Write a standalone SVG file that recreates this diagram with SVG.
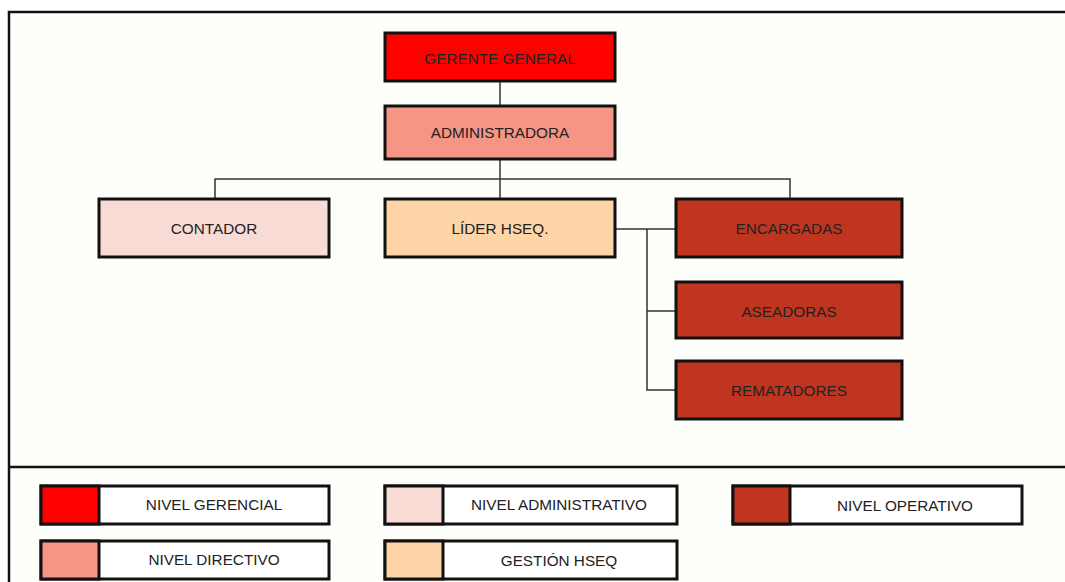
<svg xmlns="http://www.w3.org/2000/svg" width="1065" height="582" viewBox="0 0 1065 582">
<style>
.box{stroke:#111;stroke-width:3}
.lbl{font-family:"Liberation Sans",Arial,sans-serif;font-size:15.3px;fill:#222;text-anchor:middle;dominant-baseline:central}
.con{fill:none;stroke:#333;stroke-width:1.5}
</style>
<rect x="0" y="0" width="1065" height="582" fill="#ffffff"/>
<rect x="9" y="12" width="1070" height="580" fill="#fefefa" stroke="#111" stroke-width="2.5"/>
<line x1="9" y1="467" x2="1065" y2="467" stroke="#111" stroke-width="2.5"/>
<g id="connectors">
<path class="con" d="M500 81V106"/>
<path class="con" d="M500 159V199"/>
<path class="con" d="M215 199V179H790V199"/>
<path class="con" d="M615 229H676"/>
<path class="con" d="M647 229V390H676"/>
<path class="con" d="M647 311H676"/>
</g>
<g id="gerente"><rect class="box" x="385" y="33" width="230" height="48" fill="#ff0000"/><text class="lbl" x="500" y="58">GERENTE GENERAL</text></g>
<g id="administradora"><rect class="box" x="385" y="106" width="230" height="53" fill="#f49586"/><text class="lbl" x="500" y="132">ADMINISTRADORA</text></g>
<g id="contador"><rect class="box" x="99" y="199" width="230" height="58" fill="#f9dbd5"/><text class="lbl" x="214" y="228">CONTADOR</text></g>
<g id="lider"><rect class="box" x="385" y="199" width="230" height="58" fill="#fdd5a7"/><text class="lbl" x="500" y="228">LÍDER HSEQ.</text></g>
<g id="encargadas"><rect class="box" x="676" y="199" width="226" height="58" fill="#c0351f"/><text class="lbl" x="789" y="228">ENCARGADAS</text></g>
<g id="aseadoras"><rect class="box" x="676" y="282" width="226" height="56" fill="#c0351f"/><text class="lbl" x="789" y="311">ASEADORAS</text></g>
<g id="rematadores"><rect class="box" x="676" y="361" width="226" height="58" fill="#c0351f"/><text class="lbl" x="789" y="390">REMATADORES</text></g>
<g id="legend-gerencial"><rect class="box" x="41" y="486" width="288" height="38" fill="#ffffff"/><rect class="box" x="41" y="486" width="58" height="38" fill="#ff0000"/><text class="lbl" x="214" y="504">NIVEL GERENCIAL</text></g>
<g id="legend-directivo"><rect class="box" x="41" y="541" width="288" height="38" fill="#ffffff"/><rect class="box" x="41" y="541" width="58" height="38" fill="#f49586"/><text class="lbl" x="214" y="559">NIVEL DIRECTIVO</text></g>
<g id="legend-administrativo"><rect class="box" x="385" y="486" width="292" height="38" fill="#ffffff"/><rect class="box" x="385" y="486" width="58" height="38" fill="#f9dbd5"/><text class="lbl" x="559" y="504">NIVEL ADMINISTRATIVO</text></g>
<g id="legend-hseq"><rect class="box" x="385" y="541" width="292" height="38" fill="#ffffff"/><rect class="box" x="385" y="541" width="58" height="38" fill="#fdd5a7"/><text class="lbl" x="559" y="560">GESTIÓN HSEQ</text></g>
<g id="legend-operativo"><rect class="box" x="733" y="486" width="289" height="38" fill="#ffffff"/><rect class="box" x="733" y="486" width="57" height="38" fill="#c0351f"/><text class="lbl" x="905" y="505">NIVEL OPERATIVO</text></g>
</svg>
